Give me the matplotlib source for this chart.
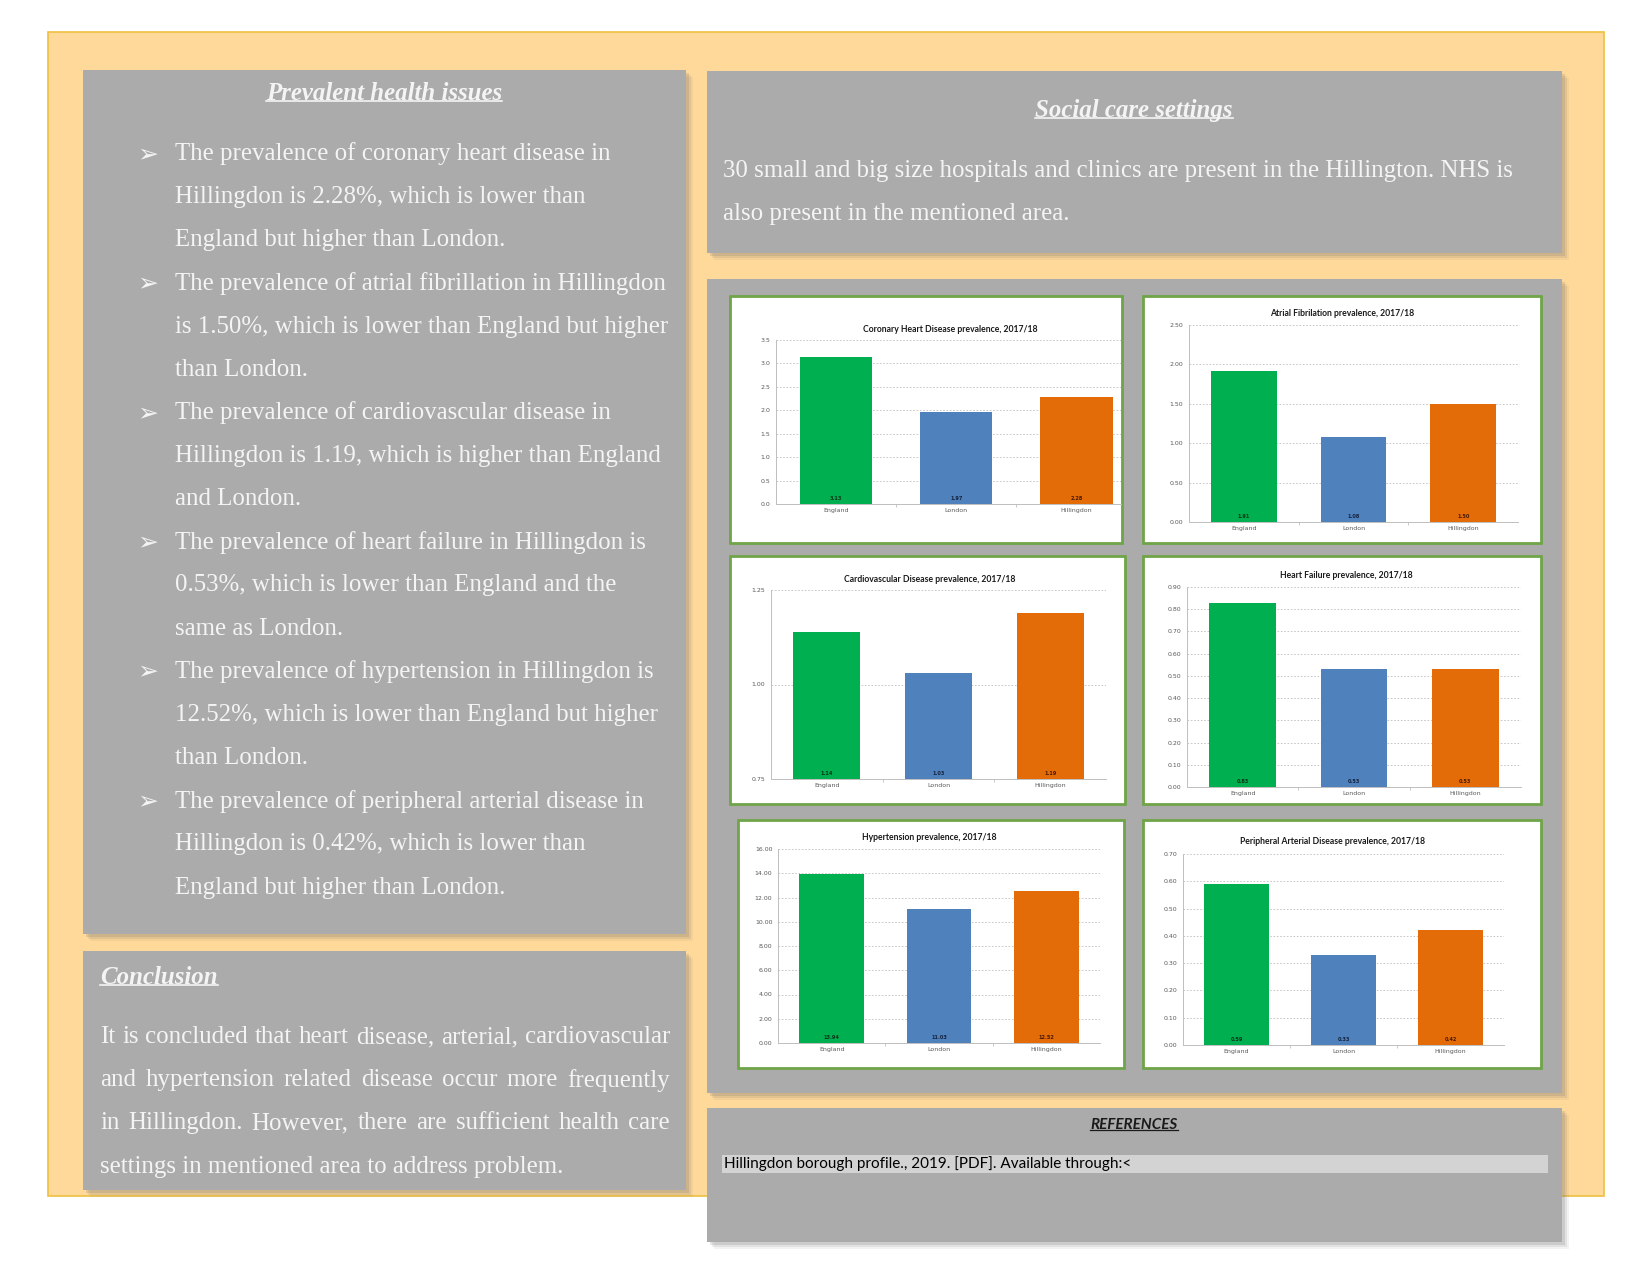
import matplotlib
matplotlib.use("Agg")
import matplotlib.pyplot as plt
from matplotlib.patches import Rectangle
from matplotlib.lines import Line2D
from matplotlib.transforms import Affine2D
import numpy as np

# ---------------- data ----------------
categories = ["England", "London", "Hillingdon"]
chd_values = [3.13, 1.97, 2.28]
af_values = [1.91, 1.08, 1.50]
cvd_values = [1.14, 1.03, 1.19]
hf_values = [0.83, 0.53, 0.53]
htn_values = [13.94, 11.03, 12.52]
pad_values = [0.59, 0.33, 0.42]

chart_titles = ["Coronary Heart Disease prevalence, 2017/18",
                "Atrial Fibrilation prevalence, 2017/18",
                "Cardiovascular Disease prevalence, 2017/18",
                "Heart Failure prevalence, 2017/18",
                "Hypertension prevalence, 2017/18",
                "Peripheral Arterial Disease prevalence, 2017/18"]

bullet_lines = [
    ["The prevalence of coronary heart disease in",
     "Hillingdon is 2.28%, which is lower than",
     "England but higher than London."],
    ["The prevalence of atrial fibrillation in Hillingdon",
     "is 1.50%, which is lower than England but higher",
     "than London."],
    ["The prevalence of cardiovascular disease in",
     "Hillingdon is 1.19, which is higher than England",
     "and London."],
    ["The prevalence of heart failure in Hillingdon is",
     "0.53%, which is lower than England and the",
     "same as London."],
    ["The prevalence of hypertension in Hillingdon is",
     "12.52%, which is lower than England but higher",
     "than London."],
    ["The prevalence of peripheral arterial disease in",
     "Hillingdon is 0.42%, which is lower than",
     "England but higher than London."],
]
conclusion_lines = [
    "It is concluded that heart disease, arterial, cardiovascular",
    "and hypertension related disease occur more frequently",
    "in Hillingdon. However, there are sufficient health care",
    "settings in mentioned area to address problem.",
]
social_lines = [
    "30 small and big size hospitals and clinics are present in the Hillington. NHS is",
    "also present in the mentioned area.",
]
reference_text = "Hillingdon borough profile., 2019. [PDF]. Available through:<"

# ---------------- figure ----------------
W, H = 1651, 1275
fig = plt.figure(figsize=(W / 100, H / 100), dpi=100)
fig.patch.set_facecolor("white")
PX = Affine2D().scale(1 / W, -1 / H).translate(0, 1) + fig.transFigure
renderer = fig.canvas.get_renderer()

SERIF = "Liberation Serif"
SANS = "Lato"
TXT = "#F4F4F4"
PANEL = "#ABABAB"


def rect(x0, y0, x1, y1, z=1, **kw):
    r = Rectangle((x0, y0), x1 - x0, y1 - y0, transform=PX, zorder=z, **kw)
    fig.patches.append(r)
    return r


def panel(x0, y0, x1, y1):
    for off, a in [(7, 0.08), (5, 0.12), (3, 0.18)]:
        rect(x0 + off, y0 + off, x1 + off, y1 + off, z=1.5, color="#6b6b6b",
             alpha=a, lw=0)
    rect(x0, y0, x1, y1, z=2, facecolor=PANEL, edgecolor="none")


def text(x, y, s, **kw):
    kw.setdefault("zorder", 4)
    return fig.text(x, y, s, transform=PX, **kw)


def underline(t, color=TXT, lw=1.2, frac=0.16):
    bb = t.get_window_extent(renderer)
    yb = H - (bb.y0 + frac * bb.height)
    fig.lines.append(Line2D([bb.x0, bb.x1], [yb, yb], transform=PX,
                            color=color, lw=lw, zorder=4))


# background
rect(48, 32, 1604, 1196, z=0.5, facecolor="#FFD99A", edgecolor="#EFC040", lw=1.2)

# panels
panel(83, 70, 686, 934)
panel(83, 951, 686, 1190)
panel(707, 71, 1562, 253)
panel(707, 279, 1562, 1093)
panel(707, 1108, 1562, 1242)

# ---- left panel ----
FS = 17.9
t = text(384, 93, "Prevalent health issues", fontsize=FS, family=SERIF,
         weight="bold", style="italic", color=TXT, ha="center", va="center")
underline(t)
LINE0, STEP = 154, 43.15
k = 0
for para in bullet_lines:
    for j, ln in enumerate(para):
        y = LINE0 + STEP * k
        if j == 0:
            text(148, y, "\u27a2", fontsize=18, family="DejaVu Sans", color=TXT,
                 ha="center", va="center")
        text(175, y, ln, fontsize=FS, family=SERIF, color=TXT, ha="left",
             va="center")
        k += 1

# ---- conclusion ----
t = text(100, 977, "Conclusion", fontsize=FS, family=SERIF, weight="bold",
         style="italic", color=TXT, ha="left", va="center")
underline(t)
CX0, CX1 = 100, 670
for i, ln in enumerate(conclusion_lines):
    y = 1037 + 43.2 * i
    if i == len(conclusion_lines) - 1:
        text(CX0, y, ln, fontsize=FS, family=SERIF, color=TXT, ha="left", va="center")
        continue
    words = ln.split()
    objs = [text(0, y, w_, fontsize=FS, family=SERIF, color=TXT, ha="left",
                 va="center") for w_ in words]
    widths = [o.get_window_extent(renderer).width for o in objs]
    gap = (CX1 - CX0 - sum(widths)) / (len(words) - 1)
    x = CX0
    for o, wd in zip(objs, widths):
        o.set_x(x)
        x += wd + gap

# ---- social care ----
t = text(1134, 110, "Social care settings", fontsize=FS, family=SERIF,
         weight="bold", style="italic", color=TXT, ha="center", va="center")
underline(t)
for i, ln in enumerate(social_lines):
    text(723, 171 + 43.2 * i, ln, fontsize=FS, family=SERIF, color=TXT,
         ha="left", va="center")

# ---- references ----
t = text(1134, 1125, "REFERENCES", fontsize=11, family=SANS, weight="bold",
         style="italic", color="#1a1a1a", ha="center", va="center")
underline(t, color="#1a1a1a", lw=0.9, frac=0.12)
rect(722, 1155, 1548, 1173, z=3, facecolor="#D3D3D3", edgecolor="none")
text(724, 1164, reference_text, fontsize=11, family=SANS, color="black",
     ha="left", va="center")

# ---- charts ----
bar_colors = ["#00B050", "#4F81BD", "#E36C09"]
label_colors = ["#0B3318", "#14233D", "#4A1A00"]

charts = [
    # border box, axes box, values, ylim, step, fmt, xmax, title y, title x
    ((730, 296, 1122, 543), (776, 340, 1121, 504), chd_values, (0, 3.5), 0.5, "{:.1f}", 2.37, 330, 950),
    ((1143, 296, 1541, 543), (1189, 325, 1518, 522), af_values, (0, 2.5), 0.5, "{:.2f}", 2.5, 313, 1342),
    ((730, 556, 1125, 804), (771, 590, 1106, 779), cvd_values, (0.75, 1.25), 0.25, "{:.2f}", 2.5, 579, 930),
    ((1143, 556, 1541, 804), (1187, 587, 1521, 787), hf_values, (0, 0.9), 0.1, "{:.2f}", 2.5, 575, 1346),
    ((738, 820, 1124, 1068), (778, 849, 1100, 1043), htn_values, (0, 16), 2, "{:.2f}", 2.5, 837, 929),
    ((1143, 820, 1541, 1068), (1183, 854, 1504, 1045), pad_values, (0, 0.7), 0.1, "{:.2f}", 2.5, 842, 1333),
]

for idx, (bx, axb, vals, ylim, step, fmt, xmax, ty, tx) in enumerate(charts):
    rect(bx[0], bx[1], bx[2], bx[3], z=3, facecolor="white", edgecolor="#6FA548", lw=2)
    x0, y0, x1, y1 = axb
    ax = fig.add_axes([x0 / W, 1 - y1 / H, (x1 - x0) / W, (y1 - y0) / H])
    ax.set_zorder(5)
    ax.patch.set_alpha(0)
    xs = np.arange(len(categories))
    ax.bar(xs, np.array(vals) - ylim[0], bottom=ylim[0], width=0.6,
           color=bar_colors, zorder=3)
    ax.set_xlim(-0.5, xmax)
    ax.set_ylim(*ylim)
    ticks = np.arange(ylim[0], ylim[1] + step / 2, step)
    ax.set_yticks(ticks)
    ax.set_yticklabels([fmt.format(v) for v in ticks])
    ax.set_xticks(xs)
    ax.set_xticklabels(categories)
    ax.set_xticks([0.5, 1.5], minor=True)
    ax.tick_params(axis="x", which="major", length=0, labelsize=4.5,
                   colors="#595959", pad=3)
    ax.tick_params(axis="x", which="minor", length=2.5, color="#BFBFBF", width=0.6)
    ax.tick_params(axis="y", length=0, labelsize=4.5, colors="#595959", pad=4)
    ax.grid(axis="y", color="#BFBFBF", linestyle=(0, (2, 2)), lw=0.6, zorder=0)
    for s in ["top", "right"]:
        ax.spines[s].set_visible(False)
    for s in ["left", "bottom"]:
        ax.spines[s].set_color("#BFBFBF")
        ax.spines[s].set_linewidth(0.7)
    for i, v in enumerate(vals):
        ax.annotate("{:.2f}".format(v), (i, ylim[0]), xytext=(0, 2.5),
                    textcoords="offset points", ha="center", va="bottom",
                    fontsize=3.6, weight="bold", color=label_colors[i], zorder=4)
    text(tx, ty, chart_titles[idx], fontsize=6.2, family=SANS, weight="bold",
         color="#1a1a1a", ha="center", va="center", zorder=6)

fig.savefig("out.png", dpi=100)
